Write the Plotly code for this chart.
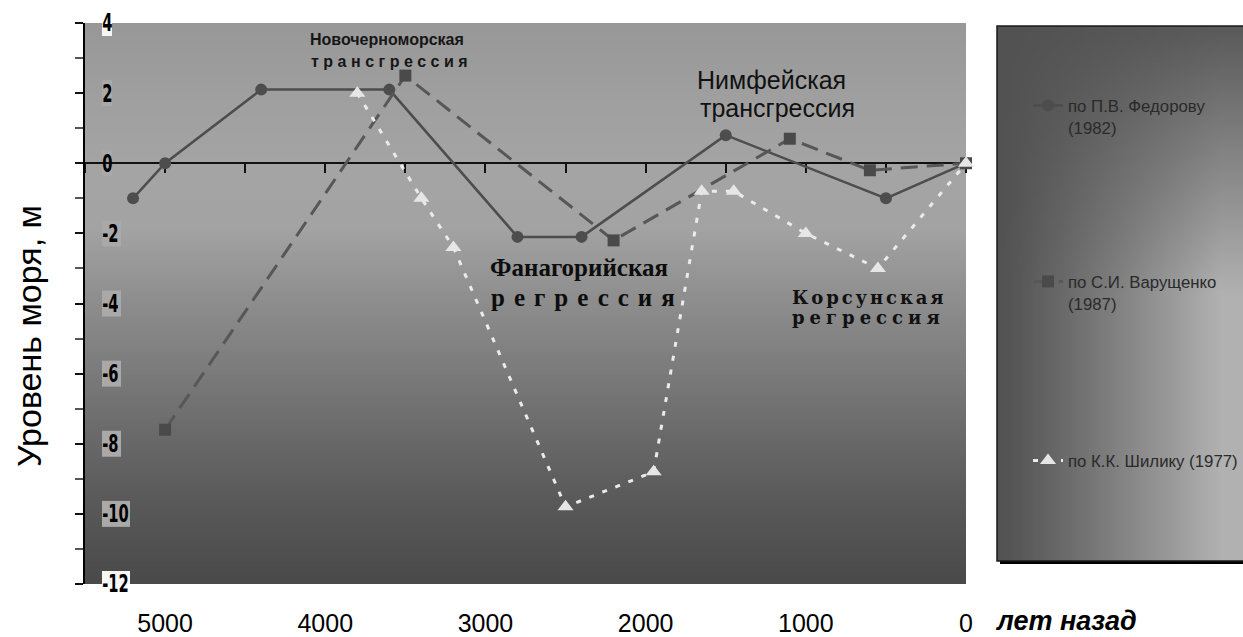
import base64
import json
import struct
import zlib

import numpy as np
import plotly.graph_objects as go

# Black Sea level reconstructions: years before present vs sea level (m)
fedorov_years = [5200, 5000, 4400, 3600, 2800, 2400, 1500, 500, 0]
fedorov_level = [-1.0, 0.0, 2.1, 2.1, -2.1, -2.1, 0.8, -1.0, 0.0]

varushchenko_years = [5000, 3500, 2200, 1100, 600, 0]
varushchenko_level = [-7.6, 2.5, -2.2, 0.7, -0.2, 0.0]

shilik_years = [3800, 3400, 3200, 2500, 1950, 1650, 1450, 1000, 550, 0]
shilik_level = [2.0, -1.0, -2.4, -9.8, -8.8, -0.8, -0.8, -2.0, -3.0, 0.0]

series_names = [
    "по П.В. Федорову<br>(1982)",
    "по С.И. Варущенко<br>(1987)",
    "по К.К. Шилику (1977)",
]

x_ticks = [5000, 4000, 3000, 2000, 1000, 0]
x_minor_step = 500
y_ticks = [4, 2, 0, -2, -4, -6, -8, -10, -12]

X_RANGE = [5500, 0]
Y_RANGE = [-12, 4]

W, H = 1243, 637
ML, MR, MT, MB = 85, 277, 23, 53
PW, PH = W - ML - MR, H - MT - MB


def px_x(px):
    """Horizontal pixel -> paper coordinate."""
    return (px - ML) / PW


def px_y(py):
    """Vertical pixel -> paper coordinate."""
    return (H - MB - py) / PH


def gray_png(pixels):
    """Encode a 2-D uint8 array as a grayscale PNG data URI."""
    pixels = np.clip(pixels, 0, 255).astype(np.uint8)
    h, w = pixels.shape
    raw = b"".join(b"\x00" + pixels[r].tobytes() for r in range(h))

    def chunk(tag, data):
        return (struct.pack(">I", len(data)) + tag + data
                + struct.pack(">I", zlib.crc32(tag + data) & 0xFFFFFFFF))

    png = (b"\x89PNG\r\n\x1a\n"
           + chunk(b"IHDR", struct.pack(">IIBBBBB", w, h, 8, 0, 0, 0, 0))
           + chunk(b"IDAT", zlib.compress(raw, 9))
           + chunk(b"IEND", b""))
    return "data:image/png;base64," + base64.b64encode(png).decode()


# vertical gradient of the plotting area
rows = np.linspace(MT, H - MB, 281)
stops_y = [23, 100, 170, 230, 300, 370, 440, 510, 584]
stops_g = [152, 160, 165, 163, 142, 124, 105, 88, 74]
plot_bg = np.repeat(np.interp(rows, stops_y, stops_g)[:, None], 4, axis=1)

# corner gradient of the legend panel
xn = np.linspace(0, 1, 64)[None, :]
yn = np.linspace(0, 1, 128)[:, None]
hx = np.clip(xn / 0.85, 0, 1) ** 1.1
vy = np.clip((yn + 0.05) / 0.55, 0, 1)
legend_bg = 82 + 95 * hx * vy

LEG_L, LEG_R, LEG_T, LEG_B = 997, 1260, 26, 561

fig = go.Figure()

fig.add_trace(go.Scatter(
    x=fedorov_years, y=fedorov_level, name=series_names[0], legend="legend",
    mode="lines+markers", cliponaxis=False,
    line=dict(color="#4d4d4d", width=2.5),
    marker=dict(symbol="circle", size=12, color="#4d4d4d"),
))
fig.add_trace(go.Scatter(
    x=varushchenko_years, y=varushchenko_level, name=series_names[1], legend="legend2",
    mode="lines+markers", cliponaxis=False,
    line=dict(color="#575757", width=3, dash="17px,9px"),
    marker=dict(symbol="square", size=12, color="#4a4a4a"),
))
fig.add_trace(go.Scatter(
    x=shilik_years, y=shilik_level, name=series_names[2], legend="legend3",
    mode="lines+markers", cliponaxis=False,
    line=dict(color="#ebebeb", width=3, dash="5px,9px"),
    marker=dict(symbol="triangle-up", size=14, color="#e6e6e6"),
))
# carrier for the horizontal axis drawn through zero
fig.add_trace(go.Scatter(
    x=[0], y=[0], xaxis="x2", mode="markers", marker=dict(opacity=0),
    showlegend=False, hoverinfo="skip",
))

# light boxes behind the level labels
shapes = []
for v in y_ticks:
    label = str(v)
    width = 9 * len(label) + 1
    fill = "#f6f6f6" if v in (Y_RANGE[0], Y_RANGE[1]) else "#a9a9a9"
    shapes.append(dict(
        type="rect", layer="below",
        xref="paper", xsizemode="pixel", xanchor=0, x0=17, x1=17 + width,
        yref="y", ysizemode="pixel", yanchor=v, y0=-13, y1=13,
        fillcolor=fill, line=dict(width=0),
    ))

# legend panel frame and its shadow
shapes.append(dict(
    type="line", xref="paper", yref="paper", layer="above",
    x0=px_x(LEG_L + 3), x1=px_x(LEG_R), y0=px_y(LEG_B + 1.5), y1=px_y(LEG_B + 1.5),
    line=dict(color="#000000", width=3),
))
shapes.append(dict(
    type="rect", xref="paper", yref="paper", layer="above",
    x0=px_x(LEG_L), x1=px_x(LEG_R), y0=px_y(LEG_B), y1=px_y(LEG_T),
    line=dict(color="#1a1a1a", width=1.5), fillcolor="rgba(0,0,0,0)",
))

images = [
    dict(source=gray_png(plot_bg), xref="paper", yref="paper", x=0, y=1,
         sizex=1, sizey=1, xanchor="left", yanchor="top", sizing="stretch",
         layer="below"),
    dict(source=gray_png(legend_bg), xref="paper", yref="paper",
         x=px_x(LEG_L), y=px_y(LEG_T),
         sizex=(LEG_R - LEG_L) / PW, sizey=(LEG_B - LEG_T) / PH,
         xanchor="left", yanchor="top", sizing="stretch", layer="below"),
]

SANS = "Liberation Sans, Arial, sans-serif"
SERIF = "Liberation Serif, Times New Roman, serif"
WIDE_SERIF = "DejaVu Serif, Liberation Serif, serif"

annotations = [
    dict(text="Уровень моря, м", xref="paper", yref="paper",
         x=px_x(29), y=px_y(336), xanchor="center", yanchor="middle",
         textangle=-90, showarrow=False,
         font=dict(family=SANS, size=34, color="#000000")),
    dict(text="лет назад", xref="paper", yref="paper",
         x=px_x(993), y=px_y(621), xanchor="left", yanchor="middle",
         showarrow=False,
         font=dict(family=SANS, size=27, color="#000000", weight="bold", style="italic")),
]

# period labels placed in data space
period_labels = [
    ("Новочерноморская", 4110, 3.54, dict(family=SANS, size=16, color="#161616", weight="bold"), 0),
    ("трансгрессия", 4100, 2.89, dict(family=SANS, size=16, color="#161616", weight="bold"), 4.5),
    ("Нимфейская", 1690, 2.37, dict(family=SANS, size=25, color="#111111"), 0),
    ("трансгрессия", 1672, 1.58, dict(family=SANS, size=25, color="#111111"), 0),
    ("Фанагорийская", 2982, -2.96, dict(family=SERIF, size=25, color="#0d0d0d", weight="bold"), 0),
    ("регрессия", 2976, -3.84, dict(family=SERIF, size=25, color="#0d0d0d", weight="bold"), 9),
    ("Корсунская", 1096, -3.84, dict(family=WIDE_SERIF, size=18, color="#111111", weight="bold"), 2.9),
    ("регрессия", 1096, -4.41, dict(family=WIDE_SERIF, size=18, color="#111111", weight="bold"), 5),
]
spacing = {}
for text, xv, yv, font, ls in period_labels:
    if ls:
        spacing[len(annotations)] = ls
    annotations.append(dict(
        text=text, x=xv, y=yv, xref="x", yref="y", xanchor="left", yanchor="middle",
        align="left", showarrow=False, font=font,
    ))

legend_common = dict(
    bgcolor="rgba(0,0,0,0)", borderwidth=0, x=px_x(1028), xanchor="left",
    yanchor="top", valign="top", font=dict(family=SANS, size=16.8, color="#2a2a2a"),
)

fig.update_layout(
    width=W, height=H,
    margin=dict(l=ML, r=MR, t=MT, b=MB, autoexpand=False),
    paper_bgcolor="#ffffff", plot_bgcolor="rgba(0,0,0,0)",
    showlegend=True,
    legend=dict(legend_common, y=px_y(88)),
    legend2=dict(legend_common, y=px_y(264)),
    legend3=dict(legend_common, y=px_y(443)),
    xaxis=dict(
        range=X_RANGE, tickmode="array", tickvals=x_ticks,
        ticktext=[str(v) for v in x_ticks],
        showline=False, showgrid=False, zeroline=False, ticks="",
        ticklabelstandoff=22,
        tickfont=dict(family=SANS, size=25, color="#000000"),
    ),
    xaxis2=dict(
        range=X_RANGE, overlaying="x", anchor="free", position=0.75, side="bottom",
        showline=True, linecolor="#111111", linewidth=1.5,
        ticks="outside", ticklen=9, tickwidth=1.5, tickcolor="#111111",
        tickmode="linear", tick0=0, dtick=x_minor_step,
        showticklabels=False, showgrid=False, zeroline=False, layer="below traces",
    ),
    yaxis=dict(
        range=Y_RANGE, tickmode="array", tickvals=y_ticks,
        ticktext=[str(v) for v in y_ticks],
        showline=True, linecolor="#000000", linewidth=2,
        ticks="outside", ticklen=8, tickwidth=1.5, tickcolor="#111111",
        minor=dict(dtick=1, ticks="outside", ticklen=8, tickcolor="#555555", showgrid=False),
        showgrid=False, zeroline=False,
        ticklabelposition="inside", ticklabeloverflow="allow", ticklabelstandoff=19,
        tickfont=dict(family="DejaVu Sans Condensed, Liberation Sans, sans-serif",
                      size=24, color="#000000", weight="bold"),
    ),
    shapes=shapes, images=images, annotations=annotations,
)

post = """
var gd = document.getElementById('{plot_id}');
var spacing = %s;
gd.querySelectorAll('g.annotation').forEach(function (g) {
    var s = spacing[g.getAttribute('data-index')];
    if (s !== undefined) {
        g.querySelectorAll('text.annotation-text').forEach(function (t) {
            t.style.letterSpacing = s + 'px';
        });
    }
});
gd.querySelectorAll('g.ytick text').forEach(function (t) {
    var x0 = parseFloat(t.getAttribute('x')) || 0;
    var prev = t.getAttribute('transform') || '';
    t.setAttribute('transform', prev + ' translate(' + x0 + ',0) scale(0.68,1) translate(' + (-x0) + ',0)');
});
""" % json.dumps({str(k): v for k, v in spacing.items()})

fig.write_html("out.html", post_script=post)
